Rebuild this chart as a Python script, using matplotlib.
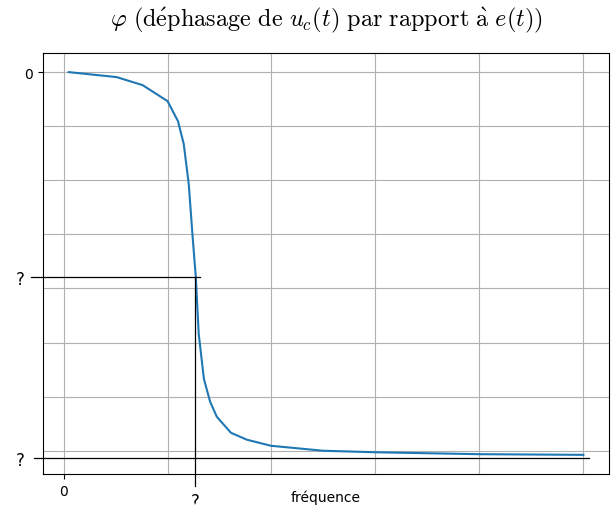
import numpy as np
import matplotlib.pyplot as plt

plt.rcParams['mathtext.fontset'] = 'cm'

# données relevées (fréquence en unités de grille, phase en degrés)
freq = [0.05, 0.51, 0.76, 1.0, 1.10, 1.156, 1.204, 1.243, 1.272, 1.30, 1.35,
        1.41, 1.474, 1.61, 1.763, 1.994, 2.495, 2.996, 4.0, 5.0]
phase = [0.0, -2.3, -6.0, -13.4, -22.6, -33.2, -51.7, -77.1, -94.7, -121.0,
         -141.8, -152.4, -159.3, -166.7, -169.9, -172.7, -175.0, -175.7,
         -176.6, -176.9]

f_c = 1.262        # fréquence marquée "?"
phi_c = -94.7      # phase marquée "?"
phi_min = -178.3   # asymptote marquée "?"

grid_x = [0, 1, 2, 3, 4, 5]
grid_y = [0, -25, -50, -75, -100, -125, -150, -175]

fig = plt.figure(figsize=(6.12, 5.06), dpi=100)
ax = fig.add_axes([0.0703, 0.0613, 0.925, 0.832])

ax.plot(freq, phase, color='tab:blue', lw=1.5)
ax.margins(0.05)
xl = ax.get_xlim()
yl = ax.get_ylim()

for gx in grid_x:
    ax.axvline(gx, color='#b0b0b0', lw=0.8, zorder=0)
for gy in grid_y:
    ax.axhline(gy, color='#b0b0b0', lw=0.8, zorder=0)

# repères noirs
px_y = (yl[1] - yl[0]) / 421
ax.plot([-0.31, f_c + 0.05], [phi_c, phi_c], color='k', lw=0.9, clip_on=False)
ax.plot([-0.28, 5.05], [phi_min, phi_min], color='k', lw=0.9, clip_on=False)
ax.plot([f_c, f_c], [phi_c, yl[0] - 12 * px_y], color='k', lw=0.9, clip_on=False)
ax.set_xlim(xl)
ax.set_ylim(yl)

ax.set_xticks([0])
ax.set_xticklabels(['0'])
ax.set_xticks([f_c], minor=True)
ax.set_xticklabels(['?'], minor=True, fontsize=12)
ax.tick_params(axis='x', which='minor', length=0, pad=13)

ax.set_yticks([0])
ax.set_yticklabels(['0'])
ax.set_yticks([phi_c, phi_min], minor=True)
ax.set_yticklabels(['?', '?'], minor=True, fontsize=12)
ax.tick_params(axis='y', which='minor', length=0, pad=13)

ax.set_xlabel('fréquence')
ax.xaxis.set_label_coords(0.5, -0.036)

ax.set_title(r'$\varphi\ \mathrm{(d\acute{e}phasage\ de\ }u_c(t)\mathrm{\ par\ rapport\ \grave{a}\ }e(t)\mathrm{)}$',
             fontsize=17.5, pad=20)

fig.savefig('out.png', dpi=100)
